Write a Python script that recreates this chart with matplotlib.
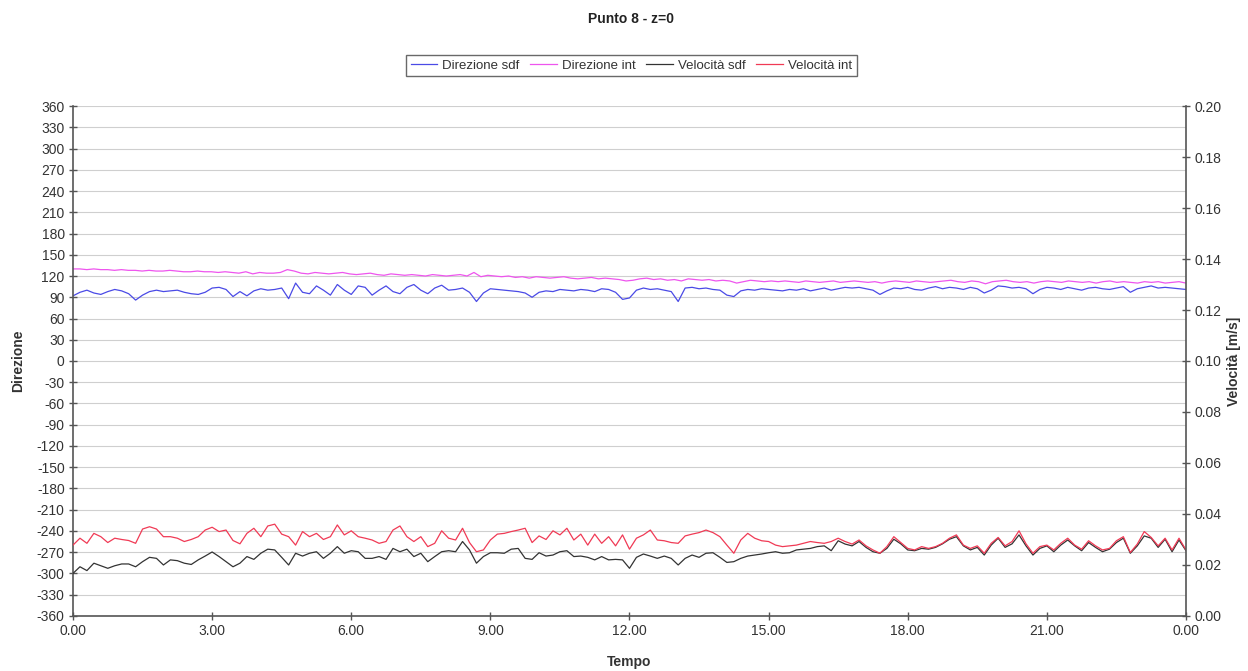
import numpy as np
import matplotlib

matplotlib.use("Agg")
import matplotlib.pyplot as plt  # noqa: E402
from matplotlib.ticker import FixedLocator, FuncFormatter  # noqa: E402

plt.rcParams["font.family"] = ["Liberation Sans Narrow", "Liberation Sans", "DejaVu Sans"]
plt.rcParams["axes.unicode_minus"] = False

# serie campionate ogni 0.15 h sull'arco di 24 h
dir_sdf = [
    92, 97, 100, 96, 94, 98, 101, 99, 95, 86, 93, 98, 100, 98, 99, 100, 97, 95, 94, 97,
    103, 104, 101, 91, 98, 92, 99, 102, 100, 101, 103, 88, 110, 97, 95, 106, 100, 93, 108, 100,
    94, 106, 104, 93, 100, 106, 98, 95, 104, 108, 100, 95, 103, 107, 100,
    101, 103, 97, 84, 96, 102, 101, 100, 99, 98, 96, 90, 97, 99, 98, 101, 100, 99, 101, 100,
    98, 102, 101, 97, 87, 89, 100, 103, 101, 102, 100, 98, 84, 103, 104, 102, 103, 101, 100, 93,
    91, 99, 101, 100, 102, 101, 100, 99, 101, 100, 102, 99, 101, 103, 100, 102, 104,
    103, 104, 102, 100, 94, 99, 103, 102, 104, 101, 100, 103, 105, 102, 104, 103, 101, 104, 102,
    96, 100, 106, 105, 103, 104, 102, 95, 101, 104, 103, 101, 104, 102, 100, 103, 104, 102, 101,
    103, 105, 97, 102, 104, 106, 103, 104, 103, 102, 101,
]
dir_int = [
    130, 130, 129, 130, 129, 129, 128, 129, 128, 128, 127, 128, 127, 127, 128, 127, 126, 126, 127, 126, 126,
    125, 126, 125, 124, 126, 123, 125, 124, 124, 125, 129, 127, 124, 123, 125, 124, 123, 124, 125, 123,
    122, 123, 124, 122, 121, 123, 122, 121, 122, 121, 120, 122, 121, 120, 121, 122, 120, 125, 119, 121,
    120, 119, 120, 118, 119, 117, 119, 118, 117, 118, 119, 117, 116, 117, 118, 116, 117, 116, 115, 113, 114,
    116, 117, 115, 116, 114, 115, 113, 116, 115, 114, 115, 113, 114, 113, 110, 112, 114, 113, 112, 113,
    112, 113, 112, 111, 113, 112, 111, 112, 113, 111, 112, 113, 112, 111, 112, 110, 112, 113, 112, 111,
    113, 112, 111, 112, 113, 114, 112, 111, 113, 112, 109, 112, 113, 114, 112, 111, 112, 110, 112, 113,
    112, 111, 113, 112, 111, 112, 110, 112, 113, 111, 112, 111, 110, 112, 111, 112, 110, 111, 112, 110,
]
vel_sdf = [
    .0167, .0193, .0178, .0207, .0197, .0187, .0197, .0204, .0204, .0193, .0213, .0230, .0226, .0200, .0220,
    .0217, .0207, .0202, .0220, .0235, .0251, .0233, .0213, .0193, .0207, .0233, .0222, .0246, .0262, .0259,
    .0230, .0200, .0246, .0235, .0246, .0252, .0226, .0246, .0272, .0246, .0256, .0252, .0226, .0226, .0233,
    .0222, .0265, .0252, .0262, .0233, .0246, .0213, .0233, .0252, .0256,
    .0252, .0292, .0259, .0207, .0233, .0248, .0248, .0246, .0262, .0265, .0226, .0222, .0248, .0235, .0239,
    .0252, .0256, .0233, .0235, .0230, .0220, .0233, .0220, .0222, .0220, .0187, .0230, .0243, .0235, .0226,
    .0235, .0226, .0200, .0226, .0239, .0230, .0246, .0248, .0230, .0210, .0213, .0226, .0235, .0239, .0243,
    .0248, .0252, .0246, .0248, .0259, .0262, .0265, .0272, .0275, .0256, .0295, .0282,
    .0275, .0292, .0269, .0252, .0246, .0265, .0301, .0283, .0259, .0256, .0265, .0262, .0269, .0283, .0301,
    .0311, .0275, .0259, .0269, .0239, .0278, .0305, .0269, .0283, .0318, .0275, .0239, .0265, .0275, .0252,
    .0278, .0298, .0275, .0256, .0288, .0269, .0252, .0262, .0288, .0305, .0246, .0275, .0314, .0305, .0269,
    .0301, .0252, .0298, .0256,
]
vel_int = [
    .0278, .0305, .0285, .0324, .0311, .0288, .0305, .0300, .0296, .0285, .0341, .0350, .0341, .0311, .0311,
    .0305, .0292, .0300, .0311, .0337, .0348, .0331, .0337, .0296, .0283, .0324, .0344, .0311, .0353, .0360,
    .0321, .0311, .0278, .0331, .0311, .0324, .0300, .0311, .0357, .0318, .0334, .0311, .0305, .0298, .0285,
    .0292, .0337, .0353, .0311, .0292, .0311, .0272, .0285, .0334, .0305,
    .0298, .0344, .0288, .0252, .0259, .0298, .0321, .0324, .0331, .0337, .0344, .0288, .0314, .0300, .0334,
    .0318, .0344, .0298, .0321, .0278, .0321, .0285, .0311, .0275, .0318, .0262, .0305, .0318, .0337, .0298,
    .0295, .0288, .0285, .0314, .0321, .0327, .0337, .0327, .0311, .0278, .0246, .0298, .0324, .0305, .0295,
    .0292, .0278, .0272, .0275, .0278, .0285, .0292, .0288, .0285, .0292, .0305, .0292,
    .0282, .0298, .0275, .0259, .0246, .0272, .0311, .0288, .0265, .0259, .0272, .0265, .0272, .0285, .0305,
    .0318, .0278, .0265, .0275, .0246, .0285, .0308, .0275, .0292, .0334, .0283, .0246, .0272, .0278, .0259,
    .0285, .0305, .0278, .0262, .0295, .0275, .0259, .0265, .0295, .0311, .0249, .0282, .0331, .0308, .0275,
    .0305, .0259, .0305, .0259,
]

dir_ticks = list(range(-360, 361, 30))
vel_ticks = [0.00, 0.02, 0.04, 0.06, 0.08, 0.10, 0.12, 0.14, 0.16, 0.18, 0.20]
time_ticks = [0, 3, 6, 9, 12, 15, 18, 21, 24]
time_labels = ["0.00", "3.00", "6.00", "9.00", "12.00", "15.00", "18.00", "21.00", "0.00"]

txt = "#333333"
fig = plt.figure(figsize=(12.48, 6.71), dpi=100)
ax = fig.add_axes([0.0585, 0.082, 0.8918, 0.760])
ax2 = ax.twinx()

def hours(values):
    return np.linspace(0, 24, len(values))

l1, = ax.plot(hours(dir_sdf), dir_sdf, color="#4a4ae6", lw=0.9, label="Direzione sdf")
l2, = ax.plot(hours(dir_int), dir_int, color="#ee55ee", lw=0.9, label="Direzione int")
l3, = ax2.plot(hours(vel_sdf), vel_sdf, color="#333333", lw=0.9, label="Velocità sdf")
l4, = ax2.plot(hours(vel_int), vel_int, color="#f03a55", lw=0.9, label="Velocità int")
ax2.set_zorder(ax.get_zorder() + 1)
ax2.patch.set_visible(False)

ax.set_xlim(0, 24)
ax.set_ylim(-360, 360)
ax2.set_ylim(0, 0.20)
ax.yaxis.set_major_locator(FixedLocator(dir_ticks))
ax2.yaxis.set_major_locator(FixedLocator(vel_ticks))
ax2.yaxis.set_major_formatter(FuncFormatter(lambda v, _: f"{v:.2f}"))
ax.set_xticks(time_ticks)
ax.set_xticklabels(time_labels)
ax.grid(axis="y", color="#cfcfcf", lw=0.8)
ax.set_axisbelow(True)

for a in (ax, ax2):
    a.spines["top"].set_visible(False)
    for s in ("left", "right", "bottom"):
        a.spines[s].set_color("#555555")
        a.spines[s].set_linewidth(1.2)
    a.tick_params(direction="inout", length=6, width=1, color="#555555",
                  labelsize=10, labelcolor=txt, pad=3)
ax.spines["right"].set_visible(False)
ax2.spines["left"].set_visible(False)
ax2.spines["bottom"].set_visible(False)

ax.set_ylabel("Direzione", fontsize=10, fontweight="bold", color=txt, labelpad=8)
ax2.set_ylabel("Velocità [m/s]", fontsize=10, fontweight="bold", color=txt, labelpad=4)
ax.set_xlabel("Tempo", fontsize=10, fontweight="bold", color=txt, labelpad=12)

fig.text(0.506, 0.972, "Punto 8 - z=0", ha="center", va="center",
         fontsize=10, fontweight="bold", color="#222222")
leg = fig.legend([l1, l2, l3, l4], [l.get_label() for l in (l1, l2, l3, l4)],
                 loc="center", bbox_to_anchor=(0.506, 0.902), ncol=4, fontsize=9.5,
                 frameon=True, fancybox=False, edgecolor="#444444", handlelength=2.0,
                 handletextpad=0.4, columnspacing=0.8, borderpad=0.35)
leg.get_frame().set_linewidth(1.0)
for t in leg.get_texts():
    t.set_color(txt)

fig.savefig("out.png", dpi=100)
